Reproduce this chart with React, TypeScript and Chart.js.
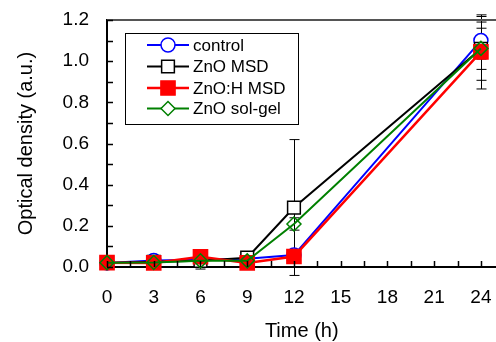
import React, { useEffect, useRef } from 'react';
import { Chart, registerables } from 'chart.js';
Chart.register(...registerables);

const times = [0, 3, 6, 9, 12, 24];
const seriesLabels = ['control', 'ZnO MSD', 'ZnO:H MSD', 'ZnO sol-gel'];
const controlValues = [0.02, 0.032, 0.035, 0.04, 0.058, 1.1];
const msdValues = [0.02, 0.025, 0.03, 0.045, 0.289, 1.06];
const hMsdValues = [0.021, 0.02, 0.05, 0.02, 0.051, 1.045];
const solGelValues = [0.021, 0.022, 0.03, 0.03, 0.209, 1.062];
const controlErr = [0.005, 0.01, 0.01, 0.01, 0.01, 0.09];
const msdErr = [0.005, 0.01, 0.01, 0.02, 0.33, 0.1];
const hMsdErr = [0.005, 0.005, 0.01, 0.01, 0.01, 0.18];
const solGelErr = [0.005, 0.01, 0.04, 0.01, 0.03, 0.155];
const xTickLabels = [0, 3, 6, 9, 12, 15, 18, 21, 24];
const yTickLabels = [0, 0.2, 0.4, 0.6, 0.8, 1.0, 1.2];
const xMinorStep = 1.5;
const yMinorStep = 0.1;

const FONT = "'Liberation Sans', Arial, sans-serif";

const seriesStyles = [
  { color: '#0000ff', pointStyle: 'circle', radius: 7, fill: '#ffffff', width: 2 },
  { color: '#000000', pointStyle: 'rect', radius: 9, fill: '#ffffff', width: 2 },
  { color: '#ff0000', pointStyle: 'rect', radius: 10, fill: '#ff0000', width: 2.5 },
  { color: '#008000', pointStyle: 'rectRot', radius: 7, fill: 'rgba(0,0,0,0)', width: 2 },
];
const allValues = [controlValues, msdValues, hMsdValues, solGelValues];
const allErrs = [controlErr, msdErr, hMsdErr, solGelErr];

function drawMarker(ctx: any, style: string, r: number, x: number, y: number, stroke: string, fill: string) {
  ctx.save();
  ctx.strokeStyle = stroke;
  ctx.fillStyle = fill;
  ctx.lineWidth = 1.5;
  ctx.beginPath();
  if (style === 'circle') {
    ctx.arc(x, y, r, 0, Math.PI * 2);
  } else if (style === 'rect') {
    const s = r * Math.SQRT1_2;
    ctx.rect(x - s, y - s, 2 * s, 2 * s);
  } else {
    ctx.moveTo(x, y - r);
    ctx.lineTo(x + r, y);
    ctx.lineTo(x, y + r);
    ctx.lineTo(x - r, y);
    ctx.closePath();
  }
  ctx.fill();
  ctx.stroke();
  ctx.restore();
}

const extrasPlugin = {
  id: 'extras',
  beforeDatasetsDraw(chart: any) {
    const ctx = chart.ctx;
    const xs = chart.scales.x;
    const ys = chart.scales.y;
    ctx.save();
    ctx.strokeStyle = '#000';
    ctx.lineWidth = 1;
    allValues.forEach((vals, si) => {
      vals.forEach((v, i) => {
        const e = allErrs[si][i];
        const px = Math.round(xs.getPixelForValue(times[i])) + 0.5;
        const top = ys.getPixelForValue(v + e);
        const bot = ys.getPixelForValue(v - e);
        ctx.beginPath();
        ctx.moveTo(px, top);
        ctx.lineTo(px, bot);
        ctx.moveTo(px - 5, top);
        ctx.lineTo(px + 5, top);
        ctx.moveTo(px - 5, bot);
        ctx.lineTo(px + 5, bot);
        ctx.stroke();
      });
    });
    ctx.restore();
  },
  afterDraw(chart: any) {
    const ctx = chart.ctx;
    const xs = chart.scales.x;
    const ys = chart.scales.y;
    const area = chart.chartArea;
    ctx.save();
    // top border
    ctx.strokeStyle = '#555';
    ctx.lineWidth = 2;
    ctx.beginPath();
    ctx.moveTo(area.left, area.top);
    ctx.lineTo(area.right, area.top);
    ctx.stroke();
    // minor ticks
    ctx.strokeStyle = '#000';
    ctx.lineWidth = 1.5;
    ctx.beginPath();
    for (let t = xs.min; t <= xs.max + 1e-9; t += xMinorStep) {
      const px = Math.round(xs.getPixelForValue(t)) + 0.5;
      ctx.moveTo(px, area.bottom);
      ctx.lineTo(px, area.bottom - 6);
    }
    for (let t = ys.min; t <= ys.max + 1e-9; t += yMinorStep) {
      const py = Math.round(ys.getPixelForValue(t)) + 0.5;
      ctx.moveTo(area.left, py);
      ctx.lineTo(area.left + 6, py);
    }
    ctx.stroke();

    // legend
    const lx = 125, ly = 33, lw = 173, lh = 91;
    ctx.fillStyle = '#fff';
    ctx.fillRect(lx, ly, lw, lh);
    ctx.strokeStyle = '#000';
    ctx.lineWidth = 1;
    ctx.strokeRect(lx + 0.5, ly + 0.5, lw, lh);
    const rowY = [45, 66.5, 88, 108.5];
    seriesLabels.forEach((label, i) => {
      const st = seriesStyles[i];
      const y = rowY[i];
      ctx.strokeStyle = st.color;
      ctx.lineWidth = st.width;
      ctx.beginPath();
      ctx.moveTo(147, y);
      ctx.lineTo(189, y);
      ctx.stroke();
      const fill = st.fill === 'rgba(0,0,0,0)' ? '#fff' : st.fill;
      drawMarker(ctx, st.pointStyle, st.radius, 168, y, st.color, fill);
      ctx.fillStyle = '#000';
      ctx.font = `17px ${FONT}`;
      ctx.textBaseline = 'middle';
      ctx.textAlign = 'left';
      ctx.fillText(label, 193, y + 1);
    });
    ctx.restore();
  },
};

const CANVAS_W = 508;
const CANVAS_H = 342;

export default function App() {
  const ref = useRef<HTMLCanvasElement>(null);
  useEffect(() => {
    if (!ref.current) return;
    const datasets = allValues.map((vals, i) => {
      const st = seriesStyles[i];
      return {
        label: seriesLabels[i],
        data: vals.map((v, j) => ({ x: times[j], y: v })),
        borderColor: st.color,
        backgroundColor: st.fill,
        borderWidth: st.width,
        pointStyle: st.pointStyle,
        pointRadius: st.radius,
        pointBorderColor: st.color,
        pointBackgroundColor: st.fill,
        pointBorderWidth: 1.5,
        tension: 0,
        clip: false as any,
        order: 4 - i,
      };
    });
    const chart = new Chart(ref.current, {
      type: 'line',
      data: { datasets },
      plugins: [extrasPlugin],
      options: {
        animation: false,
        responsive: false,
        maintainAspectRatio: false,
        layout: { padding: { top: 20, right: 0, left: 0, bottom: 0 } },
        plugins: { legend: { display: false }, tooltip: { enabled: false } },
        scales: {
          x: {
            type: 'linear',
            min: 0,
            max: 25,
            afterFit: (s: any) => { s.height = 75; s.paddingLeft = 0; s.paddingRight = 0; },
            afterBuildTicks: (s: any) => { s.ticks = xTickLabels.map((v) => ({ value: v })); },
            grid: { display: false, drawTicks: false },
            border: { display: true, color: '#000', width: 2 },
            ticks: {
              color: '#000',
              font: { family: FONT, size: 19 },
              padding: 19,
              maxRotation: 0,
              autoSkip: false,
              callback: (v: any) => String(v),
            },
            title: {
              display: true,
              text: 'Time (h)',
              color: '#000',
              font: { family: FONT, size: 20 },
              padding: { top: 0, bottom: -1 },
            },
          },
          y: {
            type: 'linear',
            min: 0,
            max: 1.2,
            afterFit: (s: any) => { s.width = 107; s.paddingTop = 0; s.paddingBottom = 0; },
            afterBuildTicks: (s: any) => { s.ticks = yTickLabels.map((v) => ({ value: v })); },
            grid: { display: false, drawTicks: false },
            border: { display: true, color: '#000', width: 2 },
            ticks: {
              color: '#000',
              font: { family: FONT, size: 19 },
              padding: 18,
              autoSkip: false,
              callback: (v: any) => Number(v).toFixed(1),
            },
            title: {
              display: true,
              text: 'Optical density (a.u.)',
              color: '#000',
              font: { family: FONT, size: 20 },
              padding: { top: 14, bottom: 0 },
            },
          },
        },
      },
    });
    return () => chart.destroy();
  }, []);
  return (
    <div style={{ position: 'absolute', left: 0, top: 0, width: 496, height: 342, overflow: 'hidden', background: '#fff' }}>
      <canvas ref={ref} width={CANVAS_W} height={CANVAS_H} style={{ display: 'block', width: CANVAS_W, height: CANVAS_H }} />
    </div>
  );
}
